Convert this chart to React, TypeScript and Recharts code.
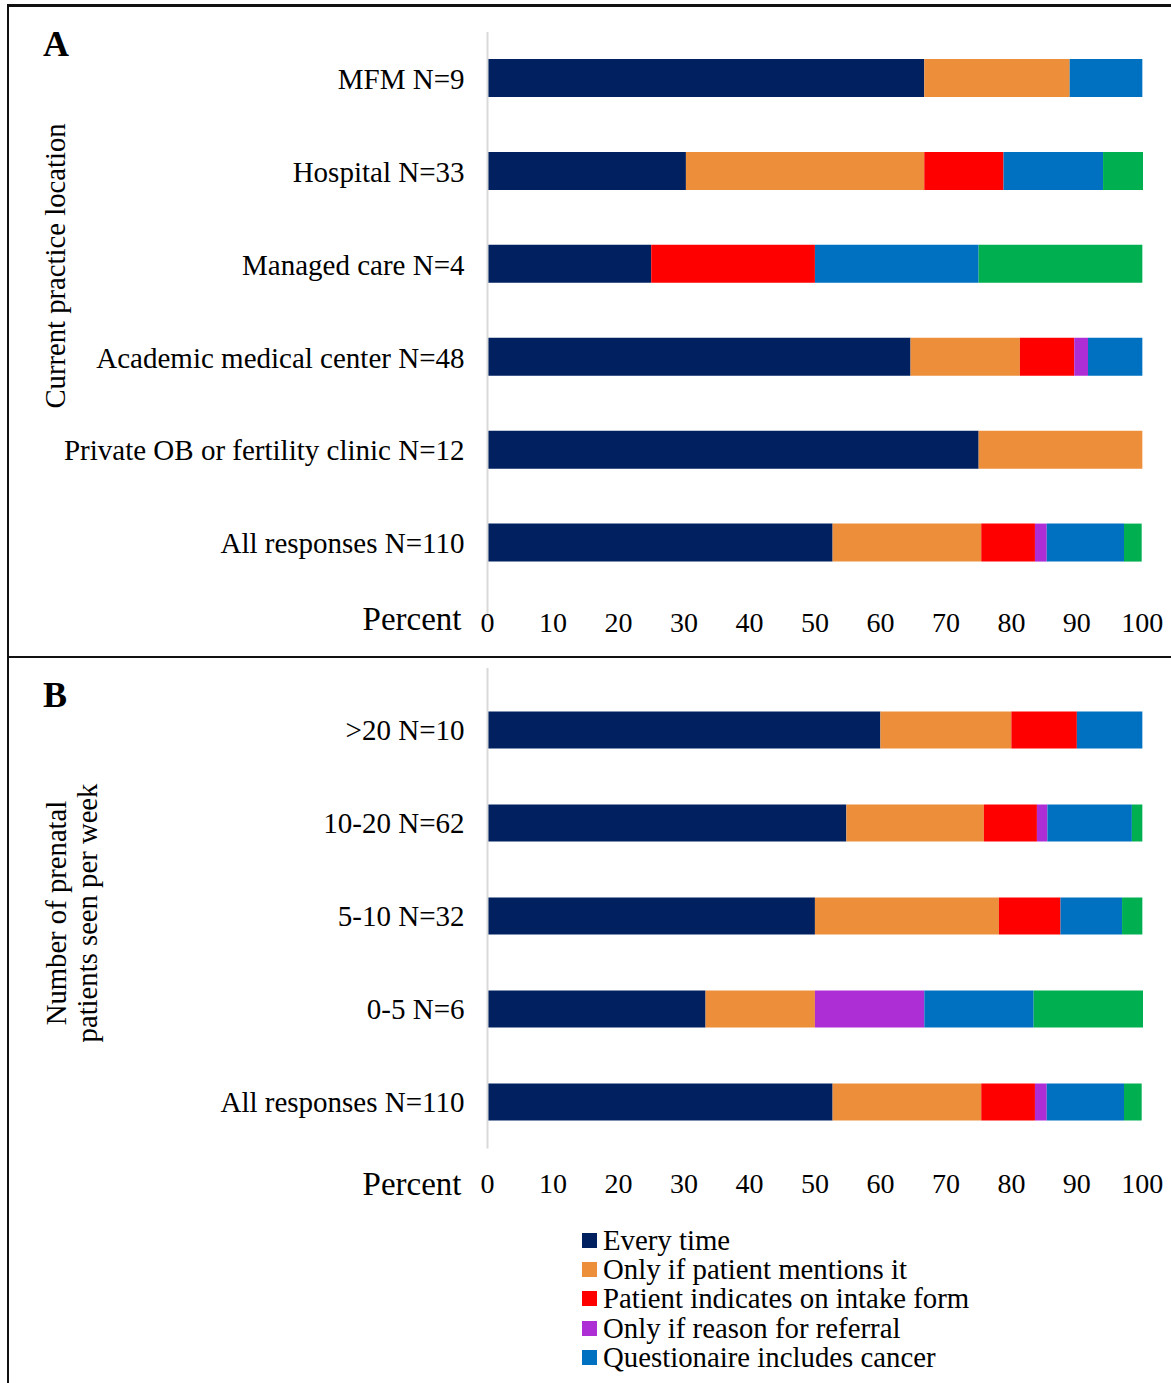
import React from 'react';
import { BarChart, Bar, XAxis, YAxis } from 'recharts';

// ---- Data ----
const seriesNames = [
  'Every time',
  'Only if patient mentions it',
  'Patient indicates on intake form',
  'Only if reason for referral',
  'Questionaire includes cancer',
  'Other',
];
const seriesKeys = ['every', 'mentions', 'intake', 'referral', 'questionnaire', 'other'];
const seriesColors = ['#002060', '#ED8E3A', '#FF0000', '#AE2ED5', '#0070C0', '#00B050'];
const legendCount = 5; // visible legend entries in the reference

const categoriesA = [
  'MFM N=9',
  'Hospital N=33',
  'Managed care N=4',
  'Academic medical center N=48',
  'Private OB or fertility clinic N=12',
  'All responses N=110',
];
const everyA = [66.7, 30.3, 25, 64.6, 75, 52.7];
const mentionsA = [22.2, 36.4, 0, 16.7, 25, 22.7];
const intakeA = [0, 12.1, 25, 8.3, 0, 8.2];
const referralA = [0, 0, 0, 2.1, 0, 1.8];
const questionnaireA = [11.1, 15.2, 25, 8.3, 0, 11.8];
const otherA = [0, 6.1, 25, 0, 0, 2.7];

const categoriesB = ['>20 N=10', '10-20 N=62', '5-10 N=32', '0-5 N=6', 'All responses N=110'];
const everyB = [60, 54.8, 50, 33.3, 52.7];
const mentionsB = [20, 21.0, 28.1, 16.7, 22.7];
const intakeB = [10, 8.1, 9.4, 0, 8.2];
const referralB = [0, 1.6, 0, 16.7, 1.8];
const questionnaireB = [10, 12.9, 9.4, 16.7, 11.8];
const otherB = [0, 1.6, 3.1, 16.7, 2.7];

const xTicks = [0, 10, 20, 30, 40, 50, 60, 70, 80, 90, 100];

const buildRows = (cats: string[], cols: number[][]) =>
  cats.map((name, i) => {
    const row: any = { name };
    seriesKeys.forEach((k, j) => {
      row[k] = cols[j][i];
    });
    return row;
  });

const dataA = buildRows(categoriesA, [everyA, mentionsA, intakeA, referralA, questionnaireA, otherA]);
const dataB = buildRows(categoriesB, [everyB, mentionsB, intakeB, referralB, questionnaireB, otherB]);

const FONT = '"Liberation Serif", "Times New Roman", serif';

const tickStyleY = { fontSize: 29, fill: '#000', fontFamily: FONT };
const tickStyleX = { fontSize: 28, fill: '#000', fontFamily: FONT };

function Panel(props: {
  data: any[];
  height: number;
  margin: any;
  xHeight: number;
  xTickMargin: number;
  padding: any;
  barSize: number;
  percentDy: number;
}) {
  const { data, height, margin, xHeight, xTickMargin, padding, barSize, percentDy } = props;
  return (
    <BarChart
      layout="vertical"
      width={1171}
      height={height}
      data={data}
      margin={margin}
      barCategoryGap={0}
    >
      <XAxis
        type="number"
        domain={[0, 100]}
        ticks={xTicks}
        interval={0}
        axisLine={false}
        tickLine={false}
        tickSize={0}
        tickMargin={xTickMargin}
        height={xHeight}
        tick={tickStyleX}
        label={{
          value: 'Percent',
          position: 'left',
          offset: 26,
          dy: percentDy,
          fontSize: 33,
          fill: '#000',
          fontFamily: FONT,
        }}
      />
      <YAxis
        type="category"
        dataKey="name"
        width={487.5}
        axisLine={{ stroke: '#d9d9d9', strokeWidth: 2 }}
        tickLine={false}
        tickSize={0}
        tickMargin={23}
        tick={tickStyleY}
        interval={0}
        padding={padding}
      />
      {seriesKeys.map((k, i) => (
        <Bar
          key={k}
          dataKey={k}
          name={seriesNames[i]}
          stackId="s"
          fill={seriesColors[i]}
          barSize={barSize}
          isAnimationActive={false}
        />
      ))}
    </BarChart>
  );
}

export default function App() {
  return (
    <div
      style={{
        position: 'absolute',
        left: 0,
        top: 0,
        width: 1171,
        height: 1383,
        background: '#fff',
        overflow: 'hidden',
        fontFamily: FONT,
      }}
    >
      {/* Panel A chart */}
      <div style={{ position: 'absolute', left: 0, top: 0 }}>
        <Panel
          data={dataA}
          height={657}
          margin={{ top: 32, right: 28, bottom: 10, left: 0 }}
          xHeight={30}
          xTickMargin={-5}
          padding={{ top: 0, bottom: 27.5 }}
          barSize={38}
          percentDy={-14}
        />
      </div>
      {/* Panel B chart */}
      <div style={{ position: 'absolute', left: 0, top: 657 }}>
        <Panel
          data={dataB}
          height={600}
          margin={{ top: 11, right: 28, bottom: 48.5, left: 0 }}
          xHeight={60}
          xTickMargin={24.5}
          padding={{ top: 15.5, bottom: 0 }}
          barSize={37}
          percentDy={4.5}
        />
      </div>

      {/* Frame lines */}
      <div style={{ position: 'absolute', left: 7, top: 4, width: 1164, height: 2.5, background: '#111' }} />
      <div style={{ position: 'absolute', left: 7, top: 4, width: 2, height: 1379, background: '#111' }} />
      <div style={{ position: 'absolute', left: 7, top: 656, width: 1164, height: 2, background: '#111' }} />

      {/* Panel letters */}
      <div style={{ position: 'absolute', left: 43, top: 25.5, fontSize: 36, lineHeight: '36px', fontWeight: 'bold', color: '#000' }}>A</div>
      <div style={{ position: 'absolute', left: 43, top: 676.5, fontSize: 36, lineHeight: '36px', fontWeight: 'bold', color: '#000' }}>B</div>

      {/* Y axis titles */}
      <div
        style={{
          position: 'absolute',
          left: 55,
          top: 266,
          transform: 'translate(-50%, -50%) rotate(-90deg)',
          whiteSpace: 'nowrap',
          fontSize: 28.7,
          lineHeight: '31px',
          color: '#000',
        }}
      >
        Current practice location
      </div>
      <div
        style={{
          position: 'absolute',
          left: 72,
          top: 913,
          transform: 'translate(-50%, -50%) rotate(-90deg)',
          whiteSpace: 'nowrap',
          fontSize: 28.7,
          lineHeight: '31px',
          textAlign: 'center',
          color: '#000',
        }}
      >
        Number of prenatal
        <br />
        patients seen per week
      </div>

      {/* Legend */}
      <div style={{ position: 'absolute', left: 582, top: 1225.5 }}>
        {seriesNames.slice(0, legendCount).map((n, i) => (
          <div key={n} style={{ display: 'flex', alignItems: 'center', height: 29.3 }}>
            <div style={{ width: 15, height: 15, background: seriesColors[i], marginRight: 6 }} />
            <span style={{ fontSize: 28.8, lineHeight: '29px', color: '#000', whiteSpace: 'nowrap' }}>{n}</span>
          </div>
        ))}
      </div>
    </div>
  );
}
